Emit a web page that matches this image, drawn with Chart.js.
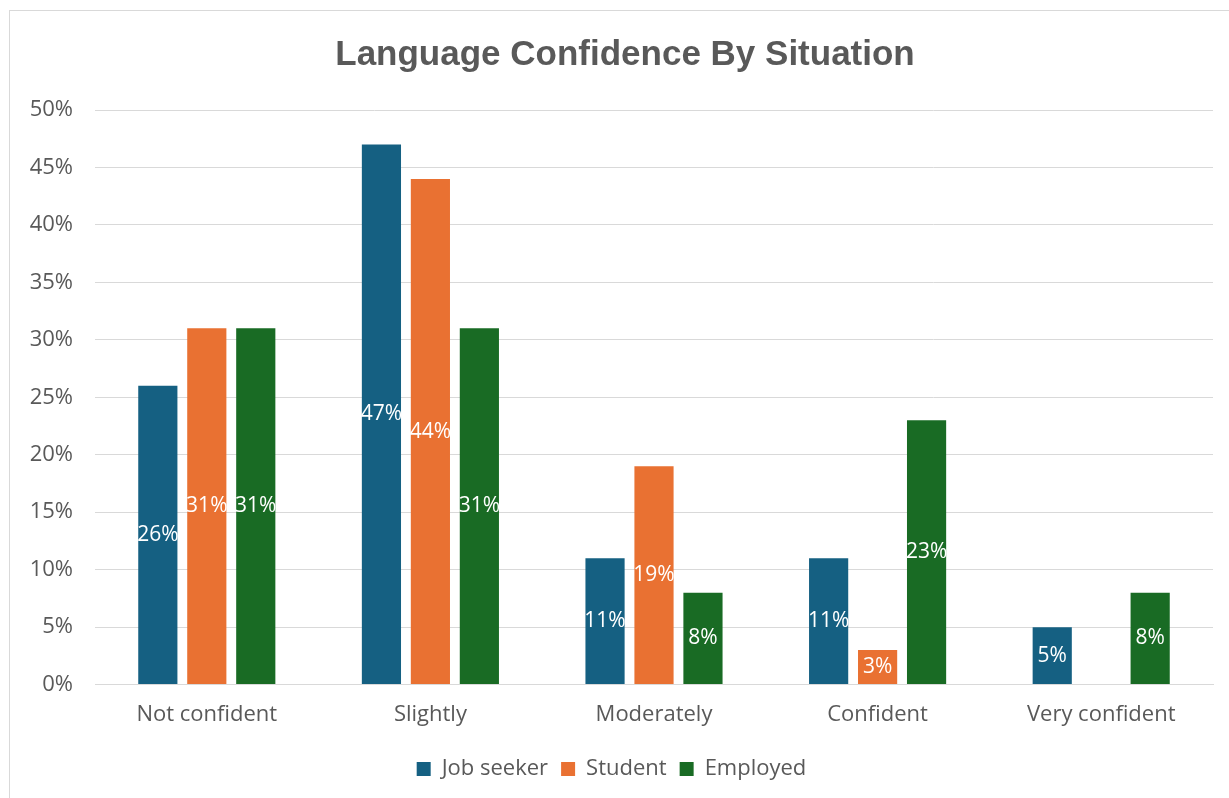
<!DOCTYPE html>
<html>
<head>
<meta charset="utf-8">
<script src="https://cdn.jsdelivr.net/npm/chart.js@4/dist/chart.umd.min.js"></script>
<style>
  html, body { margin: 0; padding: 0; background: #fff; }
  #wrap { position: absolute; left: 9px; top: 10px; width: 1222px; height: 790px; border: 1px solid #d9d9d9; box-sizing: border-box; }
  #c { position: absolute; left: 0; top: 0; }
</style>
</head>
<body>
<div id="wrap"><canvas id="c" width="1220" height="788"></canvas></div>
<script>
const chartTitle = 'Language Confidence By Situation';
const categories = ["Not confident", "Slightly", "Moderately", "Confident", "Very confident"];
const jobSeeker = [26, 47, 11, 11, 5];
const student = [31, 44, 19, 3, 0];
const employed = [31, 31, 8, 23, 8];
const seriesNames = ["Job seeker", "Student", "Employed"];
const seriesColors = ["#156082", "#E97132", "#196B24"];
const yTicksMax = 50;
const yTickStep = 5;

const labelPlugin = {
  id: 'barLabels',
  afterDatasetsDraw(chart) {
    const ctx = chart.ctx;
    ctx.save();
    ctx.fillStyle = '#ffffff';
    ctx.font = '21px "Open Sans", sans-serif';
    ctx.textAlign = 'center';
    ctx.textBaseline = 'middle';
    chart.data.datasets.forEach((ds, i) => {
      const meta = chart.getDatasetMeta(i);
      meta.data.forEach((bar, j) => {
        const v = ds.data[j];
        if (!v) return;
        const yMid = (bar.y + bar.base) / 2;
        ctx.fillText(v + '%', bar.x, yMid);
      });
    });
    ctx.restore();
  }
};

const titlePlugin = {
  id: 'customTitle',
  afterDraw(chart) {
    const ctx = chart.ctx;
    ctx.save();
    ctx.fillStyle = '#595959';
    ctx.font = 'bold 35px "Liberation Sans", Arial, sans-serif';
    ctx.textAlign = 'center';
    ctx.textBaseline = 'middle';
    ctx.fillText(chartTitle, 615, 44);
    ctx.restore();
  }
};

const axisFont = { family: '"Open Sans", sans-serif', size: 22 };

new Chart(document.getElementById('c'), {
  type: 'bar',
  data: {
    labels: categories,
    datasets: [jobSeeker, student, employed].map((d, i) => ({
      label: seriesNames[i],
      data: d,
      backgroundColor: seriesColors[i],
      borderWidth: 0,
      categoryPercentage: 0.657,
      barPercentage: 0.8
    }))
  },
  options: {
    responsive: false,
    animation: false,
    layout: { padding: { left: 0, right: 17, top: 99, bottom: 9 } },
    plugins: {
      title: { display: false },
      legend: {
        position: 'bottom',
        labels: {
          color: '#595959',
          font: axisFont,
          boxWidth: 14,
          boxHeight: 14,
          padding: 13
        }
      },
      tooltip: { enabled: false }
    },
    scales: {
      x: {
        grid: { display: false, drawTicks: false },
        border: { display: true, color: '#d9d9d9', width: 1 },
        ticks: { color: '#595959', font: axisFont, padding: 17 }
      },
      y: {
        min: 0,
        max: yTicksMax,
        grid: { color: '#d9d9d9', lineWidth: 1, drawTicks: false },
        border: { display: false },
        ticks: {
          stepSize: yTickStep,
          color: '#595959',
          font: axisFont,
          padding: 22,
          callback: v => v + '%'
        },
        afterFit(scale) { scale.width = 85; }
      }
    }
  },
  plugins: [labelPlugin, titlePlugin]
});
</script>
</body>
</html>
